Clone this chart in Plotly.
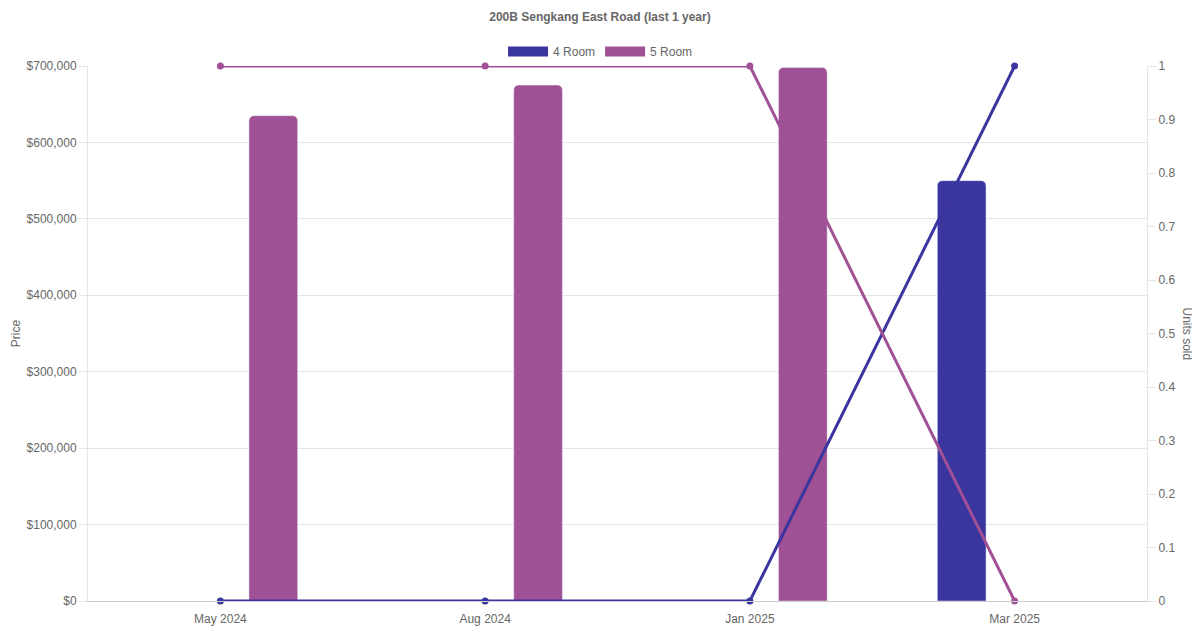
import plotly.graph_objects as go

months = ["May 2024", "Aug 2024", "Jan 2025", "Mar 2025"]

price_4room = [None, None, None, 550000]
price_5room = [635000, 675000, 698000, None]

units_4room = [0, 0, 0, 1]
units_5room = [1, 1, 1, 0]

col_4 = "#3b35a0"
col_5 = "#a05195"
grid = "#e5e5e5"
txt = "#666666"

fig = go.Figure()

# price bars (left axis)
fig.add_trace(go.Bar(x=months, y=price_4room, name="4 Room", marker_color=col_4,
                     showlegend=False, legendgroup="4"))
fig.add_trace(go.Bar(x=months, y=price_5room, name="5 Room", marker_color=col_5,
                     showlegend=False, legendgroup="5"))

# units sold lines (right axis)
fig.add_trace(go.Scatter(x=months, y=units_4room, name="4 Room", yaxis="y2",
                         mode="lines+markers", line=dict(color=col_4, width=3),
                         marker=dict(size=7, color=col_4), cliponaxis=False,
                         showlegend=False, legendgroup="4"))
fig.add_trace(go.Scatter(x=months, y=units_5room, name="5 Room", yaxis="y2",
                         mode="lines+markers", line=dict(color=col_5, width=3),
                         marker=dict(size=7, color=col_5), cliponaxis=False,
                         showlegend=False, legendgroup="5"))

# legend swatches like the original (wide boxes)
for name, c, g in [("4 Room", col_4, "4"), ("5 Room", col_5, "5")]:
    fig.add_trace(go.Scatter(x=[None], y=[None], name=name, mode="lines",
                             line=dict(color=c, width=12), legendgroup=g))

# page body has an 8px margin, so margins are shifted to compensate
fig.update_layout(
    width=1200, height=630,
    paper_bgcolor="white", plot_bgcolor="white",
    font=dict(family="Liberation Sans, Arial, sans-serif", size=12, color=txt),
    title=dict(text="<b>200B Sengkang East Road (last 1 year)</b>", x=0.4933, xanchor="center",
               y=0.9857, yanchor="middle", font=dict(size=12, color=txt)),
    margin=dict(l=80, r=61, t=58, b=37, autoexpand=False),
    barmode="group", bargap=0.2, bargroupgap=0.54, barcornerradius=5,
    legend=dict(orientation="h", x=0.484, xanchor="center", y=1.0, yanchor="bottom",
                itemwidth=40, font=dict(size=12, color=txt), traceorder="normal"),
    xaxis=dict(range=[-0.5, 3.5], showgrid=False, showline=True, linecolor="#cccccc",
               ticks="", ticklabelstandoff=7, tickfont=dict(size=12, color=txt),
               zeroline=False),
    yaxis=dict(range=[0, 700000], dtick=100000, tickprefix="$", tickformat=",d",
               gridcolor=grid, showline=True, linecolor=grid, ticks="outside",
               ticklen=8, tickcolor=grid, zeroline=False,
               title=dict(text="Price", font=dict(size=12, color=txt), standoff=3)),
    yaxis2=dict(range=[0, 1], dtick=0.1, overlaying="y", side="right",
                showgrid=False, showline=True, linecolor=grid, ticks="outside",
                ticklen=8, tickcolor=grid, zeroline=False),
    annotations=[dict(text="Units sold", textangle=90, xref="paper", yref="paper",
                      x=1.0, xshift=49, y=0.5, showarrow=False,
                      font=dict(size=12, color=txt))],
)

fig.write_html("out.html")
